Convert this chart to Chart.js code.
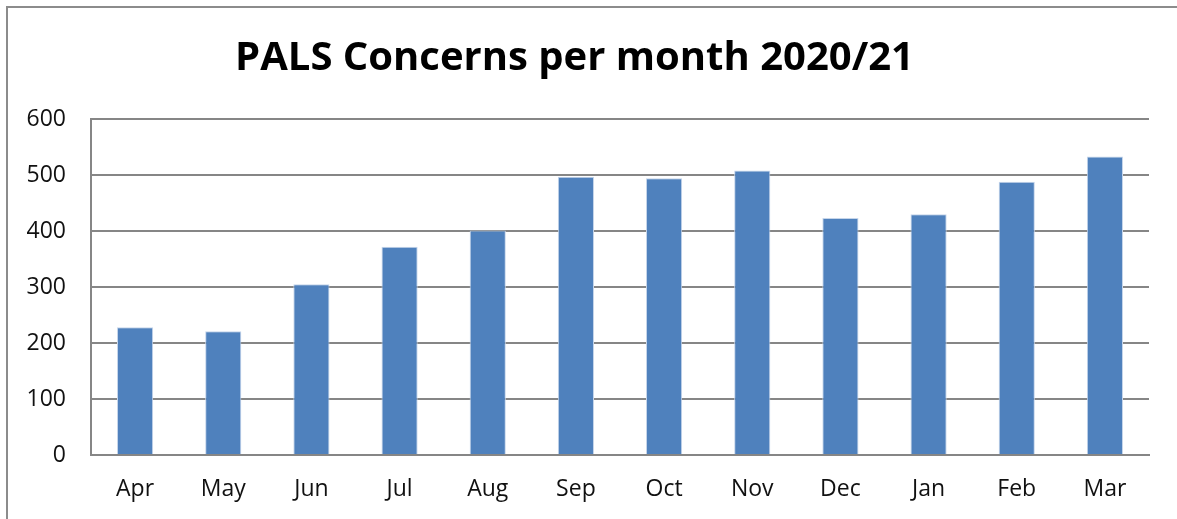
<!DOCTYPE html>
<html>
<head>
<meta charset="utf-8">
<script src="https://cdn.jsdelivr.net/npm/chart.js@4/dist/chart.umd.min.js"></script>
<style>
  html, body { margin: 0; padding: 0; background: #fff; overflow: hidden; }
  .frame { position: absolute; left: 6px; top: 6px; width: 1300px; height: 700px; border: 2px solid #8c8c8c; box-sizing: border-box; }
  .wrap { position: absolute; left: 0; top: 0; width: 1177px; height: 519px; }
</style>
</head>
<body>
<div class="frame"></div>
<div class="wrap"><canvas id="chart"></canvas></div>
<script>
const MONTHS = ["Apr", "May", "Jun", "Jul", "Aug", "Sep", "Oct", "Nov", "Dec", "Jan", "Feb", "Mar"];
const CONCERNS = [228, 221, 305, 372, 401, 497, 494, 508, 423, 430, 488, 533];
const Y_TICKS = [0, 100, 200, 300, 400, 500, 600];

const gridColor = "#868686";
const textColor = "#111";
const font = { family: "Open Sans", size: 23 };

new Chart(document.getElementById("chart"), {
  type: "bar",
  data: {
    labels: MONTHS,
    datasets: [{
      label: "PALS Concerns",
      data: CONCERNS,
      backgroundColor: "#4f81bd",
      borderColor: "#c5d5ea",
      borderWidth: 1,
      categoryPercentage: 1,
      barPercentage: 0.41,
    }],
  },
  options: {
    responsive: true,
    maintainAspectRatio: false,
    animation: false,
    layout: { padding: { left: 0, right: 28, top: 0, bottom: 0 } },
    plugins: {
      legend: { display: false },
      tooltip: { enabled: false },
      title: {
        display: true,
        text: "PALS Concerns per month 2020/21",
        color: "#000",
        font: { family: "Open Sans", size: 40, weight: "bold", lineHeight: 1.2 },
        padding: { top: 35, bottom: 36 },
      },
    },
    scales: {
      x: {
        grid: { display: false, drawTicks: false },
        border: { display: true, color: gridColor, width: 2 },
        ticks: { color: textColor, font, padding: 21, maxRotation: 0 },
        afterFit: (s) => { s.height = 64; },
      },
      y: {
        min: 0,
        max: 600,
        afterBuildTicks: (s) => { s.ticks = Y_TICKS.map((v) => ({ value: v })); },
        grid: { color: gridColor, lineWidth: 2, drawTicks: false },
        border: { display: true, color: gridColor, width: 2 },
        ticks: { color: textColor, font, padding: 25 },
        afterFit: (s) => { s.width = 91; },
      },
    },
  },
});
</script>
</body>
</html>
